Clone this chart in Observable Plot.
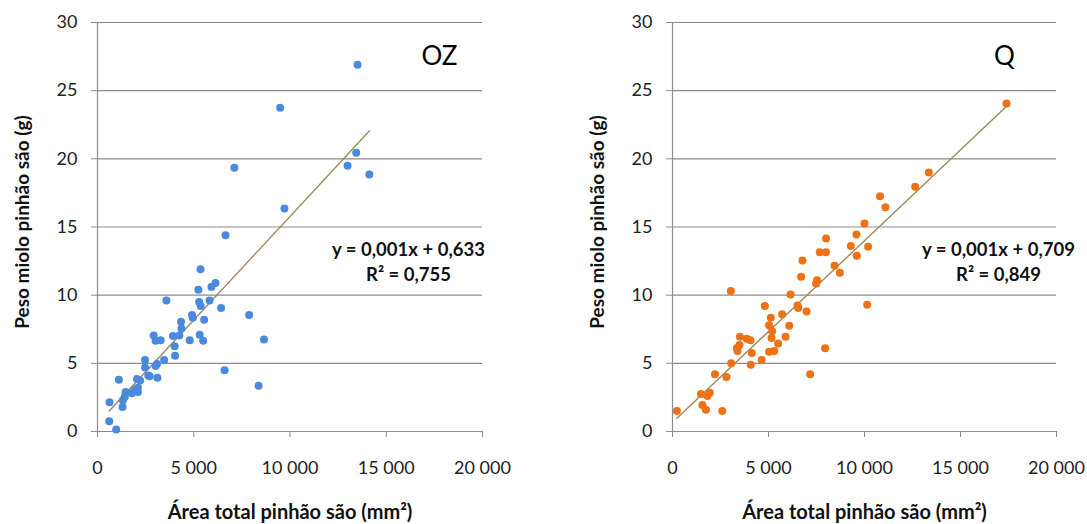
<!DOCTYPE html>
<html>
<head>
<meta charset="utf-8">
<script src="https://cdn.jsdelivr.net/npm/d3@7"></script>
<script src="https://cdn.jsdelivr.net/npm/@observablehq/plot@0.6"></script>
<style>
  html, body { margin: 0; padding: 0; background: #fff; }
  #wrap { position: relative; width: 1087px; height: 524px; overflow: hidden; }
  #left { position: absolute; left: 0; top: 0; }
  #right { position: absolute; left: 575px; top: 0; }
</style>
</head>
<body>
<div id="wrap"><div id="left"></div><div id="right"></div></div>
<script>
// ---- data ----
const xTicks = [0, 5000, 10000, 15000, 20000];
const yTicks = [0, 5, 10, 15, 20, 25, 30];
const xTitle = "Área total pinhão são (mm²)";
const yTitle = "Peso miolo pinhão são (g)";

const ozArea = [6650,5350,5240,6130,5920,3580,5280,5360,5820,6420,7880,4910,4950,4340,5540,4360,2920,4250,3920,5310,8650,3280,3020,4790,5490,4010,4030,2470,3460,2470,3020,3090,2640,2710,3110,6600,2050,1110,2210,2100,1930,2100,1790,1460,1420,1320,1300,625,610,970,8370,13510,9490,7110,13440,12990,14120,9710];
const ozPeso = [14.4,11.9,10.4,10.9,10.6,9.6,9.5,9.2,9.6,9.05,8.55,8.55,8.35,8.05,8.2,7.55,7.05,7.05,7.0,7.1,6.75,6.7,6.65,6.7,6.65,6.25,5.55,5.25,5.25,4.7,4.8,4.95,4.1,4.05,3.95,4.5,3.85,3.8,3.75,3.2,3.05,2.9,2.8,2.9,2.55,2.3,1.8,2.15,0.75,0.15,3.35,26.9,23.75,19.35,20.45,19.5,18.85,16.35];

const qArea = [8000,9580,9290,10190,7670,7990,9600,6770,8440,8720,6700,7530,7480,3040,6150,10140,4810,6510,6550,6980,5120,5710,5030,6080,5190,5160,5890,3510,3870,4060,3490,5500,3350,3390,5030,5300,7950,4130,4640,3060,4080,2210,2810,7170,1480,1940,1820,1560,1740,2590,230,17400,13350,12640,10810,11090,10000];
const qPeso = [14.15,14.45,13.6,13.55,13.15,13.15,12.9,12.55,12.15,11.65,11.35,11.1,10.85,10.3,10.05,9.3,9.2,9.25,9.05,8.8,8.35,8.6,7.8,7.75,7.35,6.85,6.95,6.95,6.8,6.7,6.35,6.45,6.1,5.9,5.85,5.9,6.1,5.75,5.25,5.0,4.9,4.2,4.0,4.2,2.75,2.85,2.6,1.95,1.6,1.5,1.5,24.05,19.0,17.95,17.25,16.45,15.25];

const panels = [
  {el: "#left", tag: "OZ", area: ozArea, peso: ozPeso, color: "#4A8ADC",
   eq: "y = 0,001x + 0,633", r2: "R² = 0,755", width: 543, marginRight: 61, eqDx: 311, tagDx: 342},
  {el: "#right", tag: "Q", area: qArea, peso: qPeso, color: "#EE7215",
   eq: "y = 0,001x + 0,709", r2: "R² = 0,849", width: 512, marginRight: 31, eqDx: 326, tagDx: 332}
];

const fmt = d => d === 0 ? "0" : d3.format(",")(d).replace(/,/g, " ");
const gridColor = "#8c8c8c";
const trendColor = "#9a8b5c";

for (const p of panels) {
  const data = p.area.map((a, i) => ({area: a, peso: p.peso[i]}));
  const chart = Plot.plot({
    width: p.width,
    height: 524,
    marginLeft: 97,
    marginRight: p.marginRight,
    marginTop: 22,
    marginBottom: 93,
    style: {fontFamily: "Lato, 'Open Sans', sans-serif", fontSize: "18px", background: "white", color: "#222"},
    x: {domain: [0, 20000]},
    y: {domain: [0, 30]},
    marks: [
      Plot.gridY(yTicks, {stroke: gridColor, strokeOpacity: 1, strokeWidth: 1.2}),
      Plot.ruleX([0], {stroke: gridColor, strokeWidth: 1.2}),
      Plot.axisY({ticks: yTicks, tickSize: 6, tickPadding: 14, label: null, stroke: gridColor, fill: "#222", fontSize: 18}),
      Plot.axisX({ticks: xTicks, tickSize: 6, tickPadding: 24, label: null, tickFormat: fmt, stroke: gridColor, fill: "#222", fontSize: 18}),
      Plot.linearRegressionY(data, {x: "area", y: "peso", stroke: trendColor, strokeWidth: 1.4, ci: 0}),
      Plot.dot(data, {x: "area", y: "peso", r: 4, fill: p.color, stroke: null}),
      Plot.text([yTitle], {frameAnchor: "left", textAnchor: "middle", lineAnchor: "middle", dx: -75, dy: -5, rotate: -90, fontWeight: "bold", fontSize: 19, fill: "#111"}),
      Plot.text([xTitle], {frameAnchor: "bottom", textAnchor: "middle", lineAnchor: "middle", dy: 81, fontWeight: "bold", fontSize: 20, fill: "#111"}),
      Plot.text([p.tag], {frameAnchor: "top-left", textAnchor: "middle", lineAnchor: "middle", dx: p.tagDx, dy: 34, fontSize: 26, fill: "#000"}),
      Plot.text([p.eq], {frameAnchor: "top-left", textAnchor: "middle", lineAnchor: "middle", dx: p.eqDx, dy: 228, fontSize: 18.5, fontWeight: "bold", fill: "#111"}),
      Plot.text([p.r2], {frameAnchor: "top-left", textAnchor: "middle", lineAnchor: "middle", dx: p.eqDx, dy: 253, fontSize: 18.5, fontWeight: "bold", fill: "#111"})
    ]
  });
  document.querySelector(p.el).appendChild(chart);
}
</script>
</body>
</html>
